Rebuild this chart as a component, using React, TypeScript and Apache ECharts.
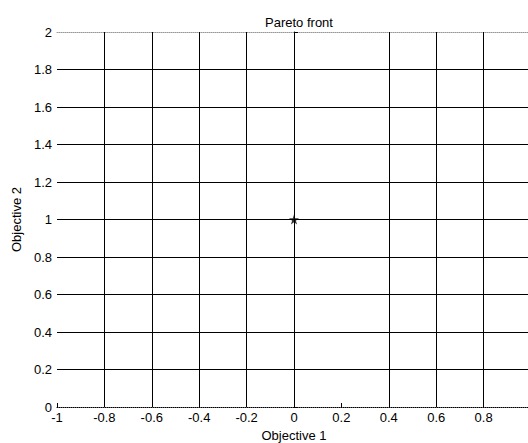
import React, { useEffect, useRef } from "react";
import * as echarts from "echarts";

const titleText = "Pareto front";
const xName = "Objective 1";
const yName = "Objective 2";
const xRange = [-1, 1];
const yRange = [0, 2];
const tickStep = 0.2;
// grid lines drawn in the reference (the one at x = 0.2 is missing)
const xGridLines = [-0.8, -0.6, -0.4, -0.2, 0, 0.4, 0.6, 0.8];
const yGridLines = [0.2, 0.4, 0.6, 0.8, 1, 1.2, 1.4, 1.6, 1.8];
const paretoPoints: [number, number][] = [[0, 1]];

const STAR =
  "path://M50,0 L61.8,36.3 L100,36.3 L69.1,58.8 L80.9,95.1 L50,72.7 L19.1,95.1 L30.9,58.8 L0,36.3 L38.2,36.3 Z";

const fmt = (v: number) => String(Number(v.toFixed(1)));

export default function App() {
  const ref = useRef<HTMLDivElement>(null);
  useEffect(() => {
    const chart = echarts.init(ref.current!, undefined, { renderer: "svg" });
    const font = "Liberation Sans, Arial, sans-serif";
    const fs = 13;
    chart.setOption({
      animation: false,
      backgroundColor: "#ffffff",
      textStyle: { fontFamily: font },
      title: {
        text: titleText,
        left: 294,
        top: 11,
        textAlign: "center",
        textStyle: { fontFamily: font, fontSize: fs, fontWeight: "normal", color: "#000" },
      },
      grid: {
        left: 57,
        top: 32,
        width: 474,
        height: 375,
        containLabel: false,
        outerBoundsMode: "none",
      },
      xAxis: [
        {
          type: "value",
          min: xRange[0],
          max: xRange[1],
          interval: tickStep,
          name: xName,
          nameLocation: "middle",
          nameGap: 21,
          nameTextStyle: { fontFamily: font, fontSize: fs, color: "#000" },
          axisLine: { show: true, lineStyle: { color: "#000", width: 1, type: [1, 1] } },
          axisTick: { show: true, inside: true, length: 4, lineStyle: { color: "#000" } },
          axisLabel: {
            fontFamily: font,
            fontSize: fs,
            color: "#000",
            margin: 4,
            showMaxLabel: false,
            formatter: (v: number) => fmt(v),
          },
          splitLine: { show: false },
        },
        {
          type: "value",
          position: "top",
          min: xRange[0],
          max: xRange[1],
          interval: tickStep,
          axisLine: { show: true, lineStyle: { color: "#999", width: 1, type: [1, 1] } },
          axisTick: { show: false },
          axisLabel: { show: false },
          splitLine: { show: false },
        },
      ],
      yAxis: {
        type: "value",
        min: yRange[0],
        max: yRange[1],
        interval: tickStep,
        name: yName,
        nameLocation: "middle",
        nameGap: 30,
        nameTextStyle: { fontFamily: font, fontSize: fs, color: "#000" },
        axisLine: { show: true, lineStyle: { color: "#000", width: 1, type: [1, 1] } },
        axisTick: { show: true, inside: true, length: 4, lineStyle: { color: "#000" } },
        axisLabel: {
          fontFamily: font,
          fontSize: fs,
          color: "#000",
          margin: 5,
          formatter: (v: number) => fmt(v),
        },
        splitLine: { show: false },
      },
      series: [
        {
          type: "scatter",
          xAxisIndex: 0,
          data: paretoPoints,
          symbol: STAR,
          symbolSize: 10,
          itemStyle: { color: "#000" },
          z: 10,
          markLine: {
            silent: true,
            symbol: ["none", "none"],
            label: { show: false },
            lineStyle: { color: "#000", width: 1, type: "solid" },
            data: [
              ...xGridLines.map((x) => ({ xAxis: x })),
              ...yGridLines.map((y) => ({ yAxis: y })),
            ],
          },
        },
      ],
    });
    return () => chart.dispose();
  }, []);
  return <div ref={ref} style={{ width: 528, height: 443, position: "absolute", left: 0, top: 0 }} />;
}
